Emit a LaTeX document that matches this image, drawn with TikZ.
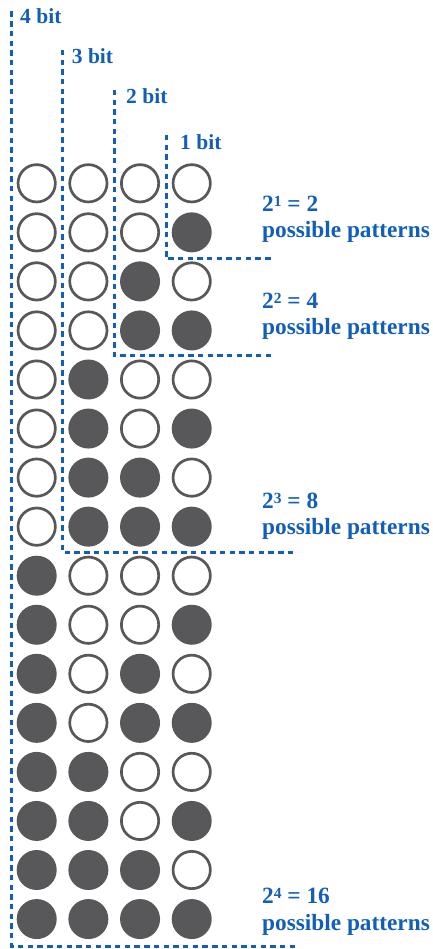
\documentclass[tikz,border=0pt]{standalone}
\usepackage{fontspec}
\setmainfont{Liberation Serif}
\definecolor{bitblue}{RGB}{18,94,186}
\definecolor{dotgray}{RGB}{88,88,90}
\newcommand{\supnum}[1]{\raisebox{4.8pt}{\fontsize{15.5}{15.5}\selectfont #1}}
\begin{document}
\begin{tikzpicture}[x=1pt,y=-1pt,
  bitoff/.style={circle,draw=dotgray,line width=2.7pt,fill=white,minimum size=37.3pt,inner sep=0pt},
  biton/.style={circle,draw=dotgray,fill=dotgray,line width=2.7pt,minimum size=37.3pt,inner sep=0pt},
  bracket/.style={draw=bitblue,line width=3pt,dash pattern=on 5.4pt off 4.3pt},
  bitlabel/.style={anchor=base west,inner sep=0pt,text=bitblue,font=\fontsize{21.5}{21.5}\selectfont\bfseries},
  countlabel/.style={anchor=base west,inner sep=0pt,text=bitblue,align=left,
    font=\fontsize{23.3}{26.5}\selectfont\bfseries}]
\useasboundingbox (0,0) rectangle (433,949);

% sixteen rows of four bits, most significant bit on the left
\foreach \r in {0,...,15}{
  \foreach \c in {0,...,3}{
    \pgfmathtruncatemacro{\b}{mod(floor(\r/(2^(3-\c))),2)}
    \ifnum\b=1
      \node[biton] (c-\r-\c) at ({36.7+51.67*\c},{183.3+49.05*\r}) {};
    \else
      \node[bitoff] (c-\r-\c) at ({36.7+51.67*\c},{183.3+49.05*\r}) {};
    \fi
  }
}

% bracket corners
\coordinate (b4top) at (11.7,11.5);
\coordinate (b4bot) at (11.7,946);
\coordinate (b4end) at (295,946);
\coordinate (b3top) at (62.3,50);
\coordinate (b3bot) at (62.3,552);
\coordinate (b3end) at (294,552);
\coordinate (b2top) at (114.3,90);
\coordinate (b2bot) at (114.3,355.7);
\coordinate (b2end) at (271.7,355.7);
\coordinate (b1top) at (166,135);
\coordinate (b1bot) at (166,259);
\coordinate (b1end) at (271.7,259);

\draw[bracket] (b4top) -- (b4bot) -- (b4end);
\draw[bracket] (b3top) -- (b3bot) -- (b3end);
\draw[bracket] (b2top) -- (b2bot) -- (b2end);
\draw[bracket] (b1top) -- (b1bot) -- (b1end);

% bit labels
\node[bitlabel] (l4) at (20,23.3) {4 bit};
\node[bitlabel] (l3) at (71.7,63.3) {3 bit};
\node[bitlabel] (l2) at (126,104) {2 bit};
\node[bitlabel] (l1) at (180,150) {1 bit};

% pattern counts (anchored on the baseline of the second line)
\node[countlabel] (n1) at (262,237.7) {2\supnum{1} = 2\\possible patterns};
\node[countlabel] (n2) at (262,334.5) {2\supnum{2} = 4\\possible patterns};
\node[countlabel] (n3) at (262,534.5) {2\supnum{3} = 8\\possible patterns};
\node[countlabel] (n4) at (262,930) {2\supnum{4} = 16\\possible patterns};
\end{tikzpicture}
\end{document}
